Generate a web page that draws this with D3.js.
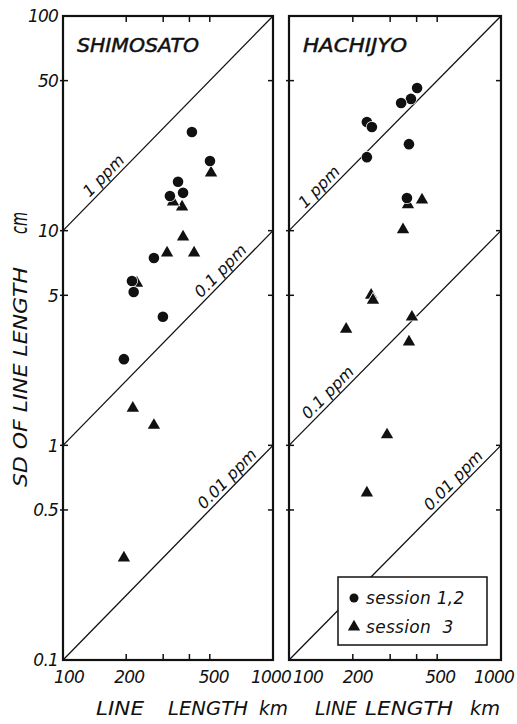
<!DOCTYPE html>
<html>
<head>
<meta charset="utf-8">
<script src="https://cdn.jsdelivr.net/npm/d3@7"></script>
<style>
  body { margin: 0; background: #fff; }
  text { font-family: "DejaVu Sans", sans-serif; font-style: oblique; fill: #111; }
</style>
</head>
<body>
<div id="chart"></div>
<script>
// SHIMOSATO, session 1,2 (circles) and session 3 (triangles)
const shimoLenC = [411, 501, 353, 373, 323, 271, 213, 217, 299, 195];
const shimoSdC  = [28.8, 21.1, 16.9, 15.0, 14.5, 7.46, 5.83, 5.18, 3.97, 2.52];
const shimoLenT = [507, 369, 334, 373, 313, 421, 225, 215, 271, 195];
const shimoSdT  = [18.6, 12.9, 13.6, 9.35, 7.87, 7.87, 5.7, 1.49, 1.24, 0.299];

// HACHIJYO
const hachiLenC = [402, 376, 338, 233, 246, 368, 233, 360];
const hachiSdC  = [46.2, 41.1, 39.3, 32.1, 30.4, 25.3, 22.0, 14.2];
const hachiLenT = [364, 424, 345, 244, 249, 380, 186, 368, 290, 233];
const hachiSdT  = [13.2, 13.9, 10.1, 5.01, 4.75, 3.96, 3.48, 3.03, 1.12, 0.600];

const xTicks = [100, 200, 500, 1000];
const xMinor = [200, 300, 400, 500];
const yTicks = [100, 50, 10, 5, 1, 0.5, 0.1];
const yTickLabels = ["100", "50", "10", "5", "1", "0.5", "0.1"];
const ppmLines = [1, 0.1, 0.01];        // SD(cm) = ppm * L(km) / 10
const ppmLabels = ["1 ppm", "0.1 ppm", "0.01 ppm"];
const xTitleWords = ["LINE", "LENGTH", "km"];

const width = 517, height = 724;
const plotTop = 16, plotBottom = 660;

const svg = d3.select("#chart").append("svg")
    .attr("width", width)
    .attr("height", height);

const y = d3.scaleLog().domain([0.1, 100]).range([plotBottom, plotTop]);

const panels = [
    { name: "SHIMOSATO", left: 63, right: 273, lenC: shimoLenC, sdC: shimoSdC, lenT: shimoLenT, sdT: shimoSdT,
      labelAt: [168, 605, 650], tickShift: [6, 3, 4, -2], nameLen: 122,
      wordX: [33, 105, 196], wordW: [48, 80, 29] },
    { name: "HACHIJYO", left: 289, right: 501, lenC: hachiLenC, sdC: hachiSdC, lenT: hachiLenT, sdT: hachiSdT,
      labelAt: [149, 164, 640], tickShift: [19, 5, 3, -7], nameLen: 104,
      wordX: [26, 76, 181], wordW: [42, 88, 30] }
];

const tri = d3.symbol().type(d3.symbolTriangle).size(66);

panels.forEach(p => {
    const x = d3.scaleLog().domain([100, 1000]).range([p.left, p.right]);
    const g = svg.append("g");

    // ppm reference lines
    ppmLines.forEach((k, i) => {
        g.append("line")
            .attr("x1", x(100)).attr("y1", y(k * 10))
            .attr("x2", x(1000)).attr("y2", y(k * 100))
            .attr("stroke", "#111").attr("stroke-width", 1.3);
        const L = p.labelAt[i];
        const ang = Math.atan2(y(k * 100) - y(k * 10), x(1000) - x(100)) * 180 / Math.PI;
        g.append("text")
            .attr("transform", `translate(${x(L)},${y(k * L / 10)}) rotate(${ang})`)
            .attr("dy", -4)
            .attr("text-anchor", "middle")
            .attr("font-size", 16)
            .text(ppmLabels[i]);
    });

    // ticks on frame
    xMinor.forEach(v => {
        g.append("line").attr("x1", x(v)).attr("x2", x(v)).attr("y1", plotTop).attr("y2", plotTop + 6)
            .attr("stroke", "#111").attr("stroke-width", 1.5);
        g.append("line").attr("x1", x(v)).attr("x2", x(v)).attr("y1", plotBottom).attr("y2", plotBottom - 6)
            .attr("stroke", "#111").attr("stroke-width", 1.5);
    });
    yTicks.slice(1, -1).forEach(v => {
        g.append("line").attr("x1", p.left - 3).attr("x2", p.left + 5).attr("y1", y(v)).attr("y2", y(v))
            .attr("stroke", "#111").attr("stroke-width", 1.5);
        g.append("line").attr("x1", p.right - 5).attr("x2", p.right).attr("y1", y(v)).attr("y2", y(v))
            .attr("stroke", "#111").attr("stroke-width", 1.5);
    });

    // frame
    g.append("rect")
        .attr("x", p.left).attr("y", plotTop)
        .attr("width", p.right - p.left).attr("height", plotBottom - plotTop)
        .attr("fill", "none").attr("stroke", "#111").attr("stroke-width", 2.2);

    // x tick labels
    g.selectAll(".xl").data(xTicks).enter().append("text")
        .attr("x", (d, i) => x(d) + p.tickShift[i])
        .attr("y", 683)
        .attr("text-anchor", "middle")
        .attr("font-size", 17)
        .attr("letter-spacing", -0.8)
        .text(d => d);

    // x axis title
    xTitleWords.forEach((w, i) => {
        g.append("text")
            .attr("x", p.left + p.wordX[i])
            .attr("y", 715)
            .attr("font-size", 19)
            .attr("textLength", p.wordW[i])
            .attr("lengthAdjust", "spacingAndGlyphs")
            .text(w);
    });

    // panel name
    g.append("text")
        .attr("x", p.left + 14)
        .attr("y", 52)
        .attr("font-size", 20)
        .attr("textLength", p.nameLen)
        .attr("lengthAdjust", "spacingAndGlyphs")
        .attr("stroke", "#111").attr("stroke-width", 0.5)
        .text(p.name);

    // markers with white halo
    g.selectAll(".tri").data(d3.range(p.lenT.length)).enter().append("path")
        .attr("d", tri)
        .attr("transform", i => `translate(${x(p.lenT[i])},${y(p.sdT[i])})`)
        .attr("fill", "#111").attr("stroke", "#fff").attr("stroke-width", 1.5)
        .attr("paint-order", "stroke");
    g.selectAll(".dot").data(d3.range(p.lenC.length)).enter().append("circle")
        .attr("cx", i => x(p.lenC[i]))
        .attr("cy", i => y(p.sdC[i]))
        .attr("r", 5.3)
        .attr("fill", "#111").attr("stroke", "#fff").attr("stroke-width", 1.5)
        .attr("paint-order", "stroke");
});

// y tick labels
svg.selectAll(".yl").data(yTicks).enter().append("text")
    .attr("x", 58)
    .attr("y", d => y(d))
    .attr("dy", "0.38em")
    .attr("text-anchor", "end")
    .attr("font-size", 17)
    .attr("letter-spacing", -0.8)
    .text((d, i) => yTickLabels[i]);

// y axis title
svg.append("text")
    .attr("transform", "translate(27,487) rotate(-90)")
    .attr("font-size", 19)
    .attr("textLength", 220)
    .attr("lengthAdjust", "spacingAndGlyphs")
    .text("SD OF LINE LENGTH");
svg.append("text")
    .attr("transform", "translate(27,234) rotate(-90)")
    .attr("font-size", 23)
    .attr("textLength", 22)
    .attr("lengthAdjust", "spacingAndGlyphs")
    .text("cm");

// legend
const lg = svg.append("g");
lg.append("rect")
    .attr("x", 338).attr("y", 577).attr("width", 149).attr("height", 68)
    .attr("fill", "#fff").attr("stroke", "#111").attr("stroke-width", 1.5);
lg.append("circle").attr("cx", 354).attr("cy", 598).attr("r", 4.5).attr("fill", "#111");
lg.append("path").attr("d", tri).attr("transform", "translate(354,627)").attr("fill", "#111");
lg.append("text").attr("x", 366).attr("y", 604).attr("font-size", 17).attr("letter-spacing", 0.3)
    .text("session 1,2");
lg.append("text").attr("x", 366).attr("y", 633).attr("font-size", 17).attr("letter-spacing", 0.3)
    .attr("xml:space", "preserve").text("session  3");
</script>
</body>
</html>
